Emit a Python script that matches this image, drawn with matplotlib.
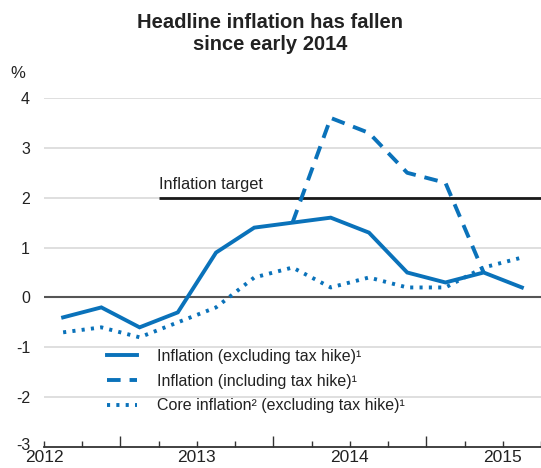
import matplotlib
matplotlib.use("Agg")
import matplotlib.pyplot as plt
import matplotlib.transforms as mtransforms
from matplotlib.ticker import FixedLocator, FuncFormatter

plt.rcParams['font.family'] = ['Liberation Sans', 'DejaVu Sans']

# Quarterly data, 2012 Q3 - 2015 Q3 (plotted at mid-quarter)
quarters = ['2012Q3', '2012Q4', '2013Q1', '2013Q2', '2013Q3', '2013Q4',
            '2014Q1', '2014Q2', '2014Q3', '2014Q4', '2015Q1', '2015Q2', '2015Q3']
headline_ex_tax = [-0.4, -0.2, -0.6, -0.3, 0.9, 1.4, 1.5, 1.6, 1.3, 0.5, 0.3, 0.5, 0.2]
headline_inc_tax_q = ['2014Q1', '2014Q2', '2014Q3', '2014Q4', '2015Q1', '2015Q2']
headline_inc_tax = [1.5, 3.6, 3.3, 2.5, 2.3, 0.5]
core_ex_tax = [-0.7, -0.6, -0.8, -0.5, -0.2, 0.4, 0.6, 0.2, 0.4, 0.2, 0.2, 0.6, 0.8]
inflation_target = 2.0
target_start = '2013Q2'

year_labels = ['2012', '2013', '2014', '2015']
y_ticks = [-3, -2, -1, 0, 1, 2, 3, 4]

title_lines = ['Headline inflation has fallen', 'since early 2014']
labels = ['Inflation (excluding tax hike)\u00b9',
          'Inflation (including tax hike)\u00b9',
          'Core inflation\u00b2 (excluding tax hike)\u00b9']


def qpos(q):
    y, n = int(q[:4]), int(q[-1])
    return y + (n - 1) * 0.25 + 0.125


def qstart(q):
    y, n = int(q[:4]), int(q[-1])
    return y + (n - 1) * 0.25


blue = '#0a72ba'
txt = '#222222'

fig = plt.figure(figsize=(5.41, 4.68), dpi=100)
ax = fig.add_axes([44 / 541, 21 / 468, 497 / 541, 349 / 468])

x = [qpos(q) for q in quarters]
x2 = [qpos(q) for q in headline_inc_tax_q]

for yv in y_ticks:
    if yv in (0, -3):
        continue
    ax.axhline(yv, color='#dcdcdc', lw=1.3, zorder=0)
ax.axhline(0, color='#555555', lw=1.5, zorder=1)

ax.plot([qstart(target_start), 2016], [inflation_target] * 2, color='#1a1a1a', lw=2, zorder=2,
        solid_capstyle='butt')
ax.text(qstart(target_start), inflation_target + 0.12, 'Inflation target', fontsize=11.8, color=txt,
        ha='left', va='bottom')

l1, = ax.plot(x, headline_ex_tax, color=blue, lw=2.8, zorder=4, solid_joinstyle='miter')
l2, = ax.plot(x2, headline_inc_tax, color=blue, lw=2.8, ls=(0, (3.5, 2.3)), zorder=3)
l3, = ax.plot(x, core_ex_tax, color=blue, lw=2.8, ls=(0, (0.8, 1.6)), zorder=3)

ax.set_xlim(2012.5, 2015.75)
ax.set_ylim(-3, 4)

for s in ['top', 'right', 'left']:
    ax.spines[s].set_visible(False)
ax.spines['bottom'].set_color('#333333')
ax.spines['bottom'].set_linewidth(1.3)

ax.set_yticks(y_ticks)
ax.set_yticklabels([str(v) for v in y_ticks])
ax.tick_params(axis='y', length=0, pad=10, labelsize=11.5, labelcolor=txt)
# nudge the lowest y label up slightly so it clears the year label below it
lowest = ax.get_yticklabels()[0]
lowest.set_transform(lowest.get_transform() +
                     mtransforms.ScaledTranslation(0, 2.5 / 72, fig.dpi_scale_trans))

years = [int(y) for y in year_labels]
ax.xaxis.set_major_locator(FixedLocator([y + 1 for y in years[:-1]]))
ax.xaxis.set_major_formatter(FuncFormatter(lambda v, p: ''))
minor = []
for y in years:
    for k in range(4):
        v = y + k * 0.25
        if 2012.5 <= v <= 2015.75 and k != 0:
            minor.append(v)
ax.xaxis.set_minor_locator(FixedLocator(minor))
ax.xaxis.set_minor_formatter(FuncFormatter(lambda v, p: str(int(v)) if abs(v - int(v) - 0.5) < 1e-6 else ''))
ax.tick_params(axis='x', which='major', direction='in', length=8, width=1, color='#333333')
ax.tick_params(axis='x', which='minor', direction='in', length=4, width=1, color='#333333',
               labelsize=12.5, labelcolor=txt, pad=2.5)

leg = ax.legend([l1, l2, l3], labels, loc='upper left', bbox_to_anchor=(0.127, 0.281),
                frameon=False, fontsize=11.5, handlelength=1.9, handletextpad=1.2,
                labelspacing=0.6, labelcolor=txt, borderaxespad=0, borderpad=0)

fig.text(270 / 541, 1 - 28 / 468, title_lines[0], ha='center', va='baseline',
         fontsize=14.5, fontweight='bold', color=txt)
fig.text(270 / 541, 1 - 50 / 468, title_lines[1], ha='center', va='baseline',
         fontsize=14.5, fontweight='bold', color=txt)
fig.text(18 / 541, 1 - 73 / 468, '%', ha='center', va='center', fontsize=12, color=txt)

fig.savefig('out.png', dpi=100)
